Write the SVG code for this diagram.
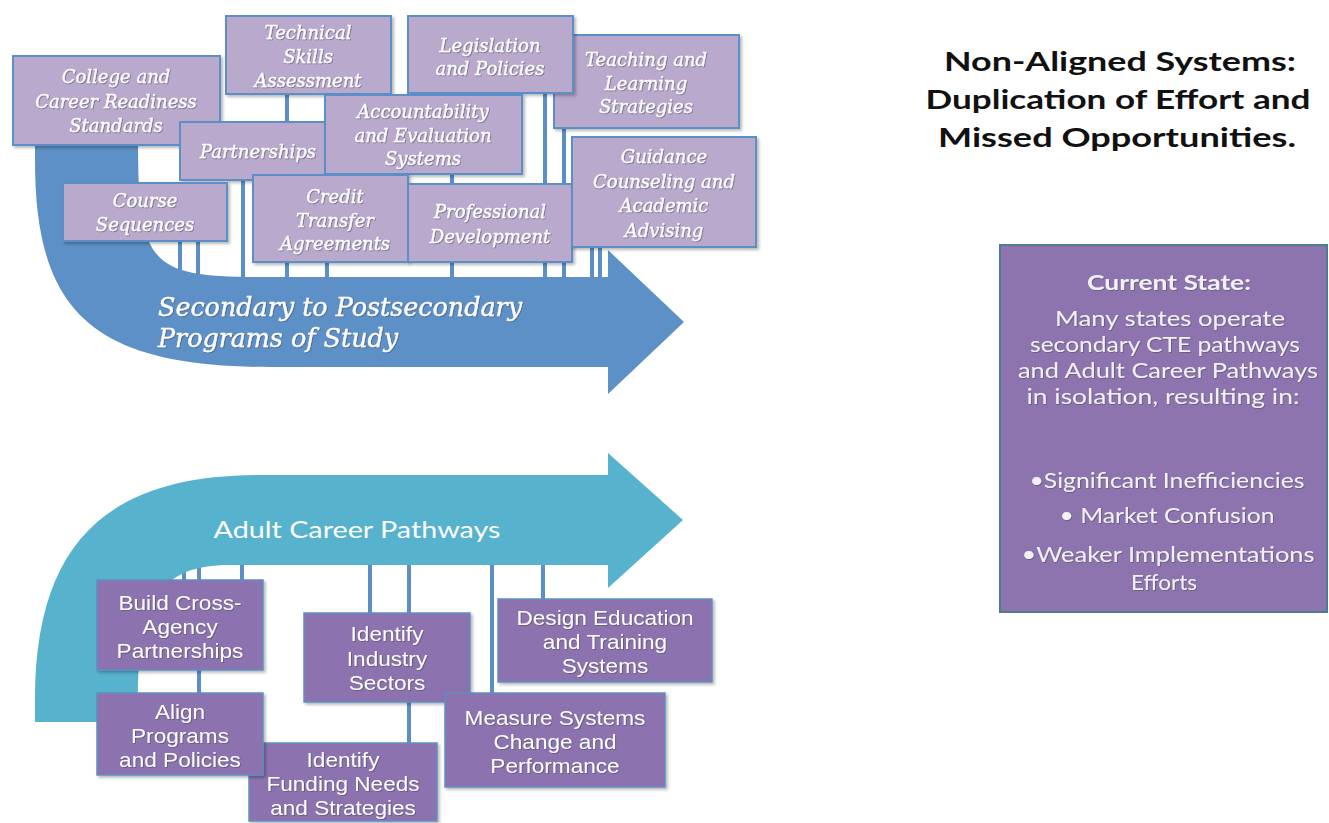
<svg xmlns="http://www.w3.org/2000/svg" width="1329" height="823" viewBox="0 0 1329 823">
<defs>
<filter id="bs" x="-10%" y="-10%" width="130%" height="130%"><feDropShadow dx="2" dy="2" stdDeviation="1.5" flood-color="#000" flood-opacity="0.28"/></filter>
<filter id="ts" x="-5%" y="-20%" width="110%" height="140%"><feDropShadow dx="0.8" dy="0.8" stdDeviation="0.7" flood-color="#4a4a5a" flood-opacity="0.65"/></filter>
<style>
.tb{fill:#b9a9cd;stroke:#5b8fc7;stroke-width:2;filter:url(#bs)}
.bb{fill:#8c72ae;stroke:#5f8fc4;stroke-width:1.5;filter:url(#bs)}
.tt{font-family:"DejaVu Serif",serif;font-style:italic;font-size:18px;fill:#fcfcfc;stroke:#fcfcfc;stroke-width:0.35;text-anchor:middle;filter:url(#ts)}
.bt{font-family:"Liberation Sans",Arial,sans-serif;font-size:20px;fill:#fcfcfc;text-anchor:middle;filter:url(#ts)}
.cw{stroke:#fff;stroke-width:8;fill:none}
.cb{stroke:#5b8fc7;stroke-width:4;fill:none}
.rt{font-family:Lato,"Open Sans",sans-serif;font-size:21px;fill:#f2f0f5;text-anchor:middle;filter:url(#ts)}
.tl{font-family:Lato,"Open Sans",sans-serif;font-weight:bold;font-size:27px;fill:#111;text-anchor:middle}
.al{font-family:"DejaVu Serif",serif;font-style:italic;font-size:26px;fill:#fcfcfc;stroke:#fcfcfc;stroke-width:0.4;filter:url(#ts)}
</style>
</defs>
<rect width="1329" height="823" fill="#fff"/>

<g id="connectors">
<path class="cw" d="M180,241V285M198,241V285M243,180V285M287,94V285M327,262V285M452,174V285M545,93V285M564,128V285M592,247V285M600,247V285"/>
<path class="cb" d="M180,241V285M198,241V285M243,180V285M287,94V285M327,262V285M452,174V285M545,93V285M564,128V285M592,247V285M600,247V285"/>
<path class="cw" d="M184,560V580M199,560V693M242,560V580M370,560V613M409,560V743M492,560V693M543,560V599"/>
<path class="cb" d="M184,560V580M199,560V693M242,560V580M370,560V613M409,560V743M492,560V693M543,560V599"/>
</g>

<g id="arrow-secondary">
<path d="M35,140 L138,140 C138,265 150,277 260,277 L608,277 L608,250 L684,322 L608,394 L608,367 L270,367 C90,367 35,310 35,160 Z" fill="#5d90c6"/>
<text class="al" x="158" y="316" textLength="364" lengthAdjust="spacingAndGlyphs">Secondary to Postsecondary</text>
<text class="al" x="158" y="347" textLength="240" lengthAdjust="spacingAndGlyphs">Programs of Study</text>
</g>

<g id="arrow-adult">
<path d="M35,722 L35,700 C35,540 110,475 260,475 L608,475 L608,453 L683,520 L608,588 L608,565 L230,565 C160,565 138,600 138,700 L138,722 Z" fill="#57b3cd"/>
<text x="357" y="538" font-family="Lato,'Open Sans',sans-serif" font-size="24" fill="#fcfcfc" text-anchor="middle" textLength="287" lengthAdjust="spacingAndGlyphs">Adult Career Pathways</text>
</g>

<g id="teaching"><rect class="tb" x="554" y="35" width="185" height="93"/>
<text class="tt" x="646" y="66">Teaching and</text><text class="tt" x="646" y="90">Learning</text><text class="tt" x="646" y="113">Strategies</text></g>
<g id="legislation"><rect class="tb" x="408" y="16" width="165" height="77"/>
<text class="tt" x="490" y="52">Legislation</text><text class="tt" x="490" y="75">and Policies</text></g>
<g id="technical"><rect class="tb" x="226" y="16" width="165" height="78"/>
<text class="tt" x="308" y="39">Technical</text><text class="tt" x="308" y="63">Skills</text><text class="tt" x="308" y="87">Assessment</text></g>
<g id="college"><rect class="tb" x="13" y="56" width="207" height="89"/>
<text class="tt" x="116" y="83">College and</text><text class="tt" x="116" y="108">Career Readiness</text><text class="tt" x="116" y="132">Standards</text></g>
<g id="partnerships"><rect class="tb" x="180" y="122" width="147" height="58"/>
<text class="tt" x="258" y="158">Partnerships</text></g>
<g id="accountability"><rect class="tb" x="325" y="95" width="197" height="79"/>
<text class="tt" x="423" y="118">Accountability</text><text class="tt" x="423" y="142">and Evaluation</text><text class="tt" x="423" y="165">Systems</text></g>
<g id="course"><rect class="tb" x="63" y="183" width="164" height="58"/>
<text class="tt" x="145" y="207">Course</text><text class="tt" x="145" y="231">Sequences</text></g>
<g id="credit"><rect class="tb" x="253" y="175" width="155" height="87"/>
<text class="tt" x="335" y="203">Credit</text><text class="tt" x="335" y="227">Transfer</text><text class="tt" x="335" y="250">Agreements</text></g>
<g id="professional"><rect class="tb" x="408" y="184" width="164" height="78"/>
<text class="tt" x="490" y="218">Professional</text><text class="tt" x="490" y="243">Development</text></g>
<g id="guidance"><rect class="tb" x="572" y="137" width="184" height="110"/>
<text class="tt" x="664" y="163">Guidance</text><text class="tt" x="664" y="188">Counseling and</text><text class="tt" x="664" y="212">Academic</text><text class="tt" x="664" y="237">Advising</text></g>

<g id="build"><rect class="bb" x="97" y="580" width="166" height="90"/>
<g transform="translate(180 0) scale(1.13 1)"><text class="bt" x="0" y="610">Build Cross-</text><text class="bt" x="0" y="634">Agency</text><text class="bt" x="0" y="658">Partnerships</text></g></g>
<g id="funding"><rect class="bb" x="249" y="743" width="188" height="78"/>
<g transform="translate(343 0) scale(1.13 1)"><text class="bt" x="0" y="767">Identify</text><text class="bt" x="0" y="791">Funding Needs</text><text class="bt" x="0" y="815">and Strategies</text></g></g>
<g id="align"><rect class="bb" x="97" y="693" width="166" height="82"/>
<g transform="translate(180 0) scale(1.13 1)"><text class="bt" x="0" y="719">Align</text><text class="bt" x="0" y="743">Programs</text><text class="bt" x="0" y="767">and Policies</text></g></g>
<g id="industry"><rect class="bb" x="304" y="613" width="166" height="89"/>
<g transform="translate(387 0) scale(1.13 1)"><text class="bt" x="0" y="641">Identify</text><text class="bt" x="0" y="666">Industry</text><text class="bt" x="0" y="690">Sectors</text></g></g>
<g id="design"><rect class="bb" x="498" y="599" width="214" height="83"/>
<g transform="translate(605 0) scale(1.13 1)"><text class="bt" x="0" y="625">Design Education</text><text class="bt" x="0" y="649">and Training</text><text class="bt" x="0" y="673">Systems</text></g></g>
<g id="measure"><rect class="bb" x="445" y="693" width="220" height="94"/>
<g transform="translate(555 0) scale(1.13 1)"><text class="bt" x="0" y="725">Measure Systems</text><text class="bt" x="0" y="749">Change and</text><text class="bt" x="0" y="773">Performance</text></g></g>

<g id="title">
<text class="tl" x="1120" y="71" textLength="352" lengthAdjust="spacingAndGlyphs">Non-Aligned Systems:</text>
<text class="tl" x="1118" y="109" textLength="385" lengthAdjust="spacingAndGlyphs">Duplication of Effort and</text>
<text class="tl" x="1117" y="147" textLength="358" lengthAdjust="spacingAndGlyphs">Missed Opportunities.</text>
</g>

<g id="current-state">
<rect x="1000" y="245" width="327" height="367" fill="#8d74ae" stroke="#4d7c8f" stroke-width="2"/>
<text class="rt" x="1169" y="290" font-weight="bold" textLength="164" lengthAdjust="spacingAndGlyphs">Current State:</text>
<text class="rt" x="1170" y="326" textLength="230" lengthAdjust="spacingAndGlyphs">Many states operate</text>
<text class="rt" x="1165" y="352" textLength="270" lengthAdjust="spacingAndGlyphs">secondary CTE pathways</text>
<text class="rt" x="1168" y="378" textLength="300" lengthAdjust="spacingAndGlyphs">and Adult Career Pathways</text>
<text class="rt" x="1163" y="404" textLength="273" lengthAdjust="spacingAndGlyphs">in isolation, resulting in:</text>
<text class="rt" x="1167" y="488" textLength="275" lengthAdjust="spacingAndGlyphs">•Significant Inefficiencies</text>
<text class="rt" x="1167" y="523" textLength="215" lengthAdjust="spacingAndGlyphs">• Market Confusion</text>
<text class="rt" x="1168" y="562" textLength="293" lengthAdjust="spacingAndGlyphs">•Weaker Implementations</text>
<text class="rt" x="1164" y="590" textLength="66" lengthAdjust="spacingAndGlyphs">Efforts</text>
</g>
</svg>
